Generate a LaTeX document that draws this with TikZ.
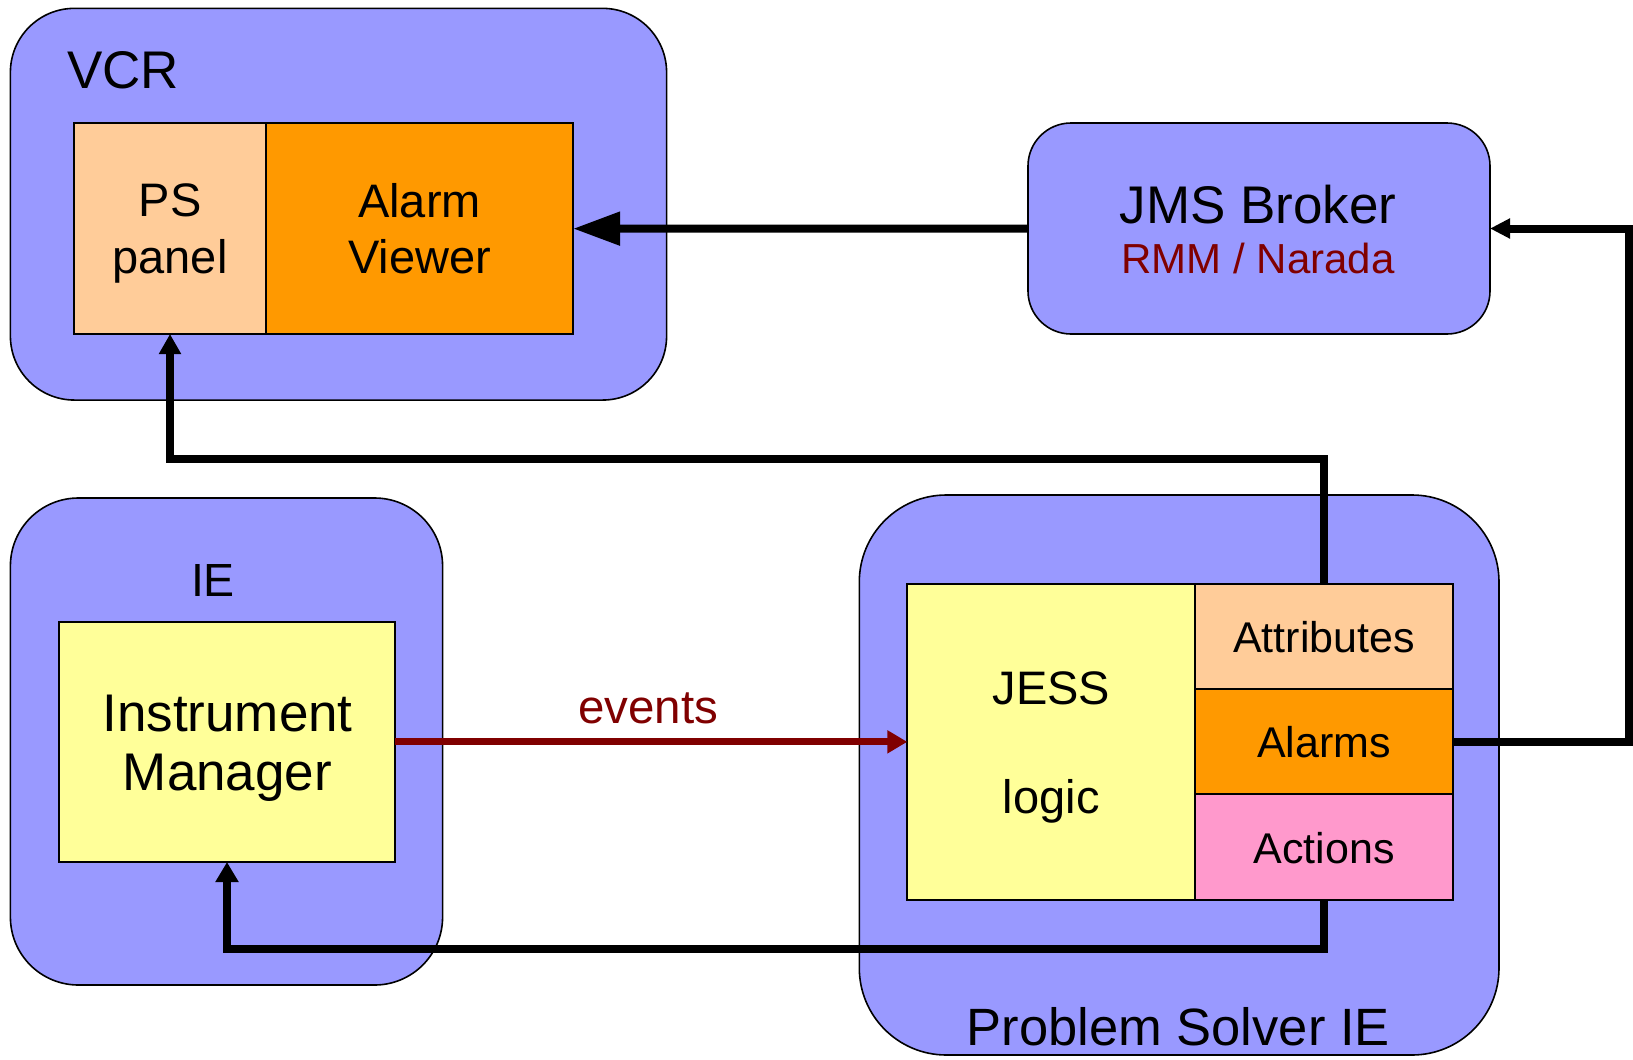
\documentclass[tikz,border=0pt]{standalone}
\usepackage{fontspec}
\setmainfont{Liberation Sans}
\usetikzlibrary{arrows.meta}
\definecolor{periw}{HTML}{9999FF}
\definecolor{peach}{HTML}{FFCC99}
\definecolor{orng}{HTML}{FF9900}
\definecolor{lyel}{HTML}{FFFF99}
\definecolor{pnk}{HTML}{FF99CC}
\definecolor{dred}{HTML}{800000}
\begin{document}
\begin{tikzpicture}[x=1pt,y=-1pt,
  outerbox/.style={draw=black,line width=1.6pt,fill=periw,rounded corners=#1,inner sep=0pt,outer sep=0pt},
  innerbox/.style={draw=black,line width=1.8pt,inner sep=0pt,outer sep=0pt},
  lbl/.style={inner sep=0pt,outer sep=0pt,text=black},
  conn/.style={line width=8pt,draw=black}]
\useasboundingbox (0,0) rectangle (1633,1060);
\fill[white] (0,0) rectangle (1633,1060);

% outer containers
\node[outerbox=64pt, minimum width=656.2pt, minimum height=391.7pt] (vcr) at (338.5,204.2) {};
\node[outerbox=43pt, minimum width=462pt, minimum height=211pt] (jms) at (1259,228.5) {};
\node[outerbox=68pt, minimum width=432.2pt, minimum height=487pt] (ie) at (226.5,741.5) {};
\node[outerbox=87pt, minimum width=639.7pt, minimum height=560pt] (psie) at (1179.15,775) {};

% inner boxes
\node[innerbox, fill=peach, minimum width=192pt, minimum height=210.7pt] (ps) at (170,228.65) {};
\node[innerbox, fill=orng, minimum width=307pt, minimum height=210.7pt] (av) at (419.5,228.65) {};
\node[innerbox, fill=lyel, minimum width=336pt, minimum height=240.3pt] (im) at (227,741.85) {};
\node[innerbox, fill=lyel, minimum width=288pt, minimum height=315.7pt] (jess) at (1051.3,742.15) {};
\node[innerbox, fill=peach, minimum width=257.4pt, minimum height=105pt] (attr) at (1324,636.8) {};
\node[innerbox, fill=orng, minimum width=257.4pt, minimum height=105pt] (alarms) at (1324,741.8) {};
\node[innerbox, fill=pnk, minimum width=257.4pt, minimum height=105.7pt] (actions) at (1324,847.15) {};

% labels
\node[lbl, anchor=base, font=\fontsize{53}{64}\selectfont] (vcrT) at (123,88.3) {VCR};
\node[lbl, align=center, font=\fontsize{47}{56.6}\selectfont] (psT) at (170,233.3) {PS\\panel};
\node[lbl, align=center, font=\fontsize{47}{56.6}\selectfont] (avT) at (419.5,228.5) {Alarm\\Viewer};
\node[lbl, align=center, font=\fontsize{53}{50}\selectfont] (jmsT) at (1258,229.6) {JMS Broker\\\fontsize{42}{50}\selectfont\color{dred}RMM / Narada};
\node[lbl, anchor=base, font=\fontsize{46.5}{56}\selectfont] (ieT) at (213,596.7) {IE};
\node[lbl, align=center, font=\fontsize{53}{59}\selectfont] (imT) at (227.5,747.8) {Instrument\\Manager};
\node[lbl, align=center, font=\fontsize{47}{109}\selectfont] (jessT) at (1051.3,747.7) {JESS\\logic};
\node[lbl, anchor=base, font=\fontsize{43}{52}\selectfont] (attrT) at (1324,652.3) {Attributes};
\node[lbl, anchor=base, font=\fontsize{43}{52}\selectfont] (alarmsT) at (1324,757.3) {Alarms};
\node[lbl, anchor=base, font=\fontsize{43}{52}\selectfont] (actionsT) at (1324,863.3) {Actions};
\node[lbl, anchor=base, font=\fontsize{52.5}{62}\selectfont] (psieT) at (1178.3,1045) {Problem Solver IE};
\node[lbl, anchor=base, text=dred, font=\fontsize{47.5}{56}\selectfont] (eventsT) at (648,723) {events};

% connectors
\coordinate (bendA) at (1324,458.5);
\coordinate (bendB) at (1324,948.5);
\coordinate (bendC) at (1629,741.8);
\draw[conn, -{Triangle[length=47pt,width=32pt]}] (jms.west) -- (av.east);
\draw[conn, -{Triangle[length=20pt,width=21pt]}] (attr.north) -- (bendA) -| (ps.south);
\draw[conn, -{Triangle[length=20pt,width=22pt]}] (actions.south) -- (bendB) -| (im.south);
\draw[conn, -{Triangle[length=20pt,width=19pt]}] (alarms.east) -- (bendC) |- (jms.east);
\draw[conn, draw=dred, fill=dred, line width=7pt, -{Triangle[length=20pt,width=22pt]}] (im.east) -- (im.east -| jess.west);
\end{tikzpicture}
\end{document}
